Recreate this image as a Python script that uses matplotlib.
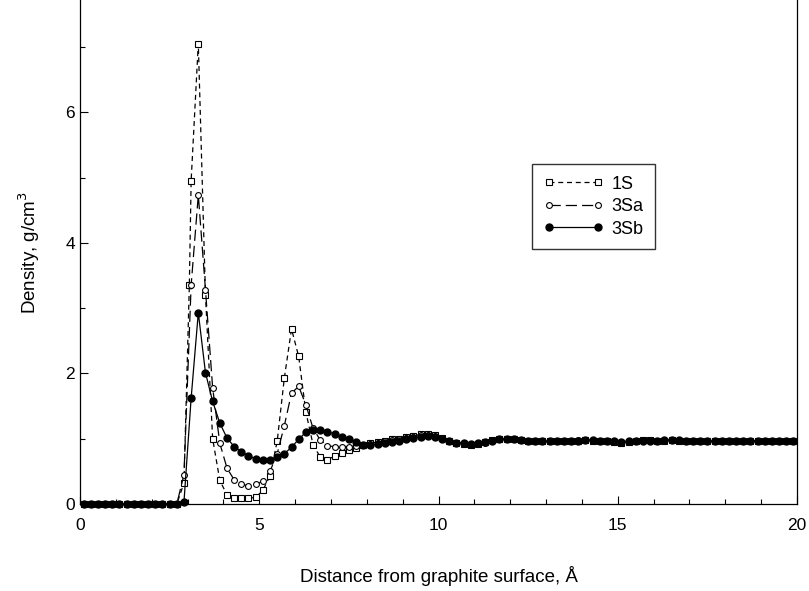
import numpy as np
import matplotlib
matplotlib.use("Agg")
import matplotlib.pyplot as plt
from matplotlib.ticker import MultipleLocator

plt.rcParams['font.family'] = ['Liberation Sans', 'DejaVu Sans']

# 距離 (Å) : 0.1, 0.3, ..., 19.9
x = np.round(np.arange(0.1, 20.0, 0.2), 1)

zeros = [0.0] * 14  # 0.1 - 2.7

# 2.9 - 10.9
s1_mid = [0.32, 4.95, 7.05, 3.20, 1.00, 0.36, 0.14, 0.09, 0.09, 0.09,
          0.10, 0.21, 0.43, 0.96, 1.93, 2.68, 2.26, 1.41, 0.91, 0.72,
          0.68, 0.73, 0.78, 0.83, 0.86, 0.90, 0.93, 0.95, 0.97, 0.99,
          1.00, 1.02, 1.04, 1.07, 1.07, 1.05, 1.01, 0.97, 0.94, 0.92,
          0.91]
s3a_mid = [0.45, 3.35, 4.73, 3.28, 1.78, 0.93, 0.55, 0.37, 0.30, 0.28,
           0.30, 0.35, 0.50, 0.77, 1.20, 1.70, 1.80, 1.52, 1.16, 0.98,
           0.89, 0.88, 0.88, 0.88, 0.89, 0.90, 0.92, 0.94, 0.96, 0.98,
           0.99, 1.01, 1.03, 1.05, 1.06, 1.04, 1.01, 0.97, 0.94, 0.93,
           0.92]
s3b_mid = [0.03, 1.62, 2.93, 2.01, 1.57, 1.24, 1.01, 0.88, 0.80, 0.74,
           0.69, 0.67, 0.67, 0.72, 0.77, 0.87, 0.99, 1.10, 1.14, 1.13,
           1.11, 1.07, 1.03, 1.00, 0.95, 0.91, 0.91, 0.92, 0.93, 0.95,
           0.97, 0.99, 1.01, 1.03, 1.04, 1.03, 1.00, 0.97, 0.94, 0.93,
           0.92]

# 11.1 - 19.9
s1_tail = [0.92, 0.95, 0.98, 1.00, 1.00, 0.99, 0.98, 0.97, 0.96, 0.96,
           0.96, 0.97, 0.97, 0.97, 0.97, 0.98, 0.97, 0.97, 0.96, 0.95,
           0.94, 0.95, 0.97, 0.98, 0.98, 0.97, 0.97, 0.98, 0.97, 0.97,
           0.97, 0.97, 0.97, 0.96, 0.96, 0.97, 0.97, 0.97, 0.97, 0.96,
           0.97, 0.97, 0.96, 0.97, 0.96]
s3a_tail = [0.92, 0.94, 0.97, 0.99, 1.00, 0.99, 0.98, 0.97, 0.97, 0.96,
            0.96, 0.97, 0.97, 0.97, 0.98, 0.98, 0.97, 0.97, 0.96, 0.96,
            0.95, 0.96, 0.97, 0.97, 0.98, 0.97, 0.97, 0.98, 0.97, 0.97,
            0.97, 0.96, 0.97, 0.96, 0.97, 0.97, 0.96, 0.97, 0.96, 0.96,
            0.97, 0.96, 0.97, 0.96, 0.96]
s3b_tail = [0.93, 0.95, 0.97, 0.99, 1.00, 0.99, 0.98, 0.97, 0.97, 0.96,
            0.96, 0.96, 0.96, 0.97, 0.97, 0.98, 0.98, 0.97, 0.97, 0.96,
            0.95, 0.96, 0.97, 0.97, 0.97, 0.97, 0.98, 0.98, 0.98, 0.97,
            0.97, 0.97, 0.96, 0.96, 0.97, 0.97, 0.96, 0.97, 0.97, 0.96,
            0.96, 0.97, 0.97, 0.96, 0.96]

# 1S はピーク手前に点が一つ多い
x_1s_extra, y_1s_extra = 3.05, 3.35

y1 = np.array(zeros + s1_mid + s1_tail)
y3a = np.array(zeros + s3a_mid + s3a_tail)
y3b = np.array(zeros + s3b_mid + s3b_tail)

k = int(np.searchsorted(x, x_1s_extra))
x1 = np.insert(x, k, x_1s_extra)
y1 = np.insert(y1, k, y_1s_extra)

fig = plt.figure(figsize=(8.09, 5.91), dpi=100)
ax = fig.add_axes([80 / 809, 87 / 591, 717 / 809, 504 / 591])

ax.plot(x1, y1, color="black", lw=0.9, ls=(0, (4, 3)),
        marker="s", ms=4, mfc="white", mec="black", mew=0.8,
        label="1S", clip_on=False, zorder=3)
ax.plot(x, y3a, color="black", lw=0.9, ls=(0, (9, 4)),
        marker="o", ms=4.2, mfc="white", mec="black", mew=0.8,
        label="3Sa", clip_on=False, zorder=4)
ax.plot(x, y3b, color="black", lw=0.9, ls="-",
        marker="o", ms=5, mfc="black", mec="black",
        label="3Sb", clip_on=False, zorder=5)

ax.set_xlim(0, 20)
ax.set_ylim(0, 504 / 65.3)
ax.xaxis.set_major_locator(MultipleLocator(5))
ax.xaxis.set_minor_locator(MultipleLocator(1))
ax.yaxis.set_major_locator(MultipleLocator(2))
ax.yaxis.set_minor_locator(MultipleLocator(1))
ax.tick_params(which="both", direction="in", labelsize=12.5, width=0.8)
ax.tick_params(which="major", length=6)
ax.tick_params(which="minor", length=3.5)
ax.tick_params(axis="x", pad=10)
ax.spines["top"].set_visible(False)
for s in ["left", "bottom", "right"]:
    ax.spines[s].set_linewidth(0.9)

ax.set_xlabel("Distance from graphite surface, Å", fontsize=13.5, labelpad=24)
ax.set_ylabel("Density, g/cm$^3$", fontsize=13.5, labelpad=17)

leg = ax.legend(loc="upper left", bbox_to_anchor=(532 / 809, 1 - 164 / 591),
                bbox_transform=fig.transFigure, numpoints=2, handlelength=3.3,
                fontsize=13, frameon=True, fancybox=False, borderpad=0.65,
                labelspacing=0.3, handletextpad=0.45, borderaxespad=0)
leg.get_frame().set_edgecolor("black")
leg.get_frame().set_linewidth(1.0)

plt.savefig("out.png", dpi=100)
